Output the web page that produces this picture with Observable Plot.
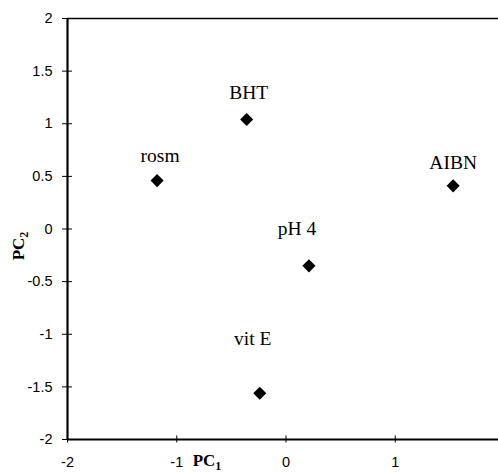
<!DOCTYPE html>
<html>
<head>
<meta charset="utf-8">
<script src="https://cdn.jsdelivr.net/npm/d3@7"></script>
<script src="https://cdn.jsdelivr.net/npm/@observablehq/plot@0.6"></script>
<style>
  html, body { margin: 0; padding: 0; background: #fff; overflow: hidden; }
  svg { max-width: none !important; }
</style>
</head>
<body>
<div id="chart"></div>
<script>
const names = ["rosm", "BHT", "AIBN", "pH 4", "vit E"];
const pc1 = [-1.18, -0.36, 1.53, 0.21, -0.24];
const pc2 = [0.46, 1.04, 0.41, -0.35, -1.56];
const xTicks = [-2, -1, 0, 1, 2];
const yTicks = [-2, -1.5, -1, -0.5, 0, 0.5, 1, 1.5, 2];
const xTickLabels = ["-2", "-1", "0", "1", "2"];
const yTickLabels = ["-2", "-1.5", "-1", "-0.5", "0", "0.5", "1", "1.5", "2"];

const data = names.map((n, i) => ({name: n, x: pc1[i], y: pc2[i]}));

// label offsets (px) – styling, not data
const offs = {"rosm": [3, -19], "BHT": [2, -21], "AIBN": [0, -17], "pH 4": [-12, -31], "vit E": [-7, -48]};

const labelMarks = names.map(n => Plot.text(data, {
  filter: d => d.name === n, x: "x", y: "y", text: "name",
  dx: offs[n][0], dy: offs[n][1], lineAnchor: "bottom",
  fontSize: 19.5, fontFamily: "Liberation Serif, Times New Roman, serif", fill: "black"
}));

const plot = Plot.plot({
  width: 510,
  height: 473,
  marginLeft: 67,
  marginRight: 6,
  marginTop: 18,
  marginBottom: 34,
  style: {fontFamily: "Liberation Sans, Arial, sans-serif", fontSize: "14px", color: "black", background: "white"},
  x: {domain: [-2, 2]},
  y: {domain: [-2, 2]},
  marks: [
    Plot.axisY(yTicks, {tickSize: 10, dx: 5, text: null, strokeWidth: 1, label: null}),
    Plot.axisX(xTicks, {tickSize: 7, dy: -3.5, text: null, strokeWidth: 1, label: null}),
    Plot.axisY(yTicks, {tickSize: 0, tickPadding: 15, tickFormat: (d, i) => yTickLabels[i], fontSize: 14.5, label: null}),
    Plot.axisX(xTicks, {tickSize: 0, tickPadding: 17, tickFormat: (d, i) => xTickLabels[i], fontSize: 14.5, label: null}),
    Plot.ruleX([-2], {strokeWidth: 2.2}),
    Plot.ruleY([-2], {strokeWidth: 2.2}),
    Plot.ruleY([2], {strokeWidth: 1.6}),
    Plot.ruleX([2], {strokeWidth: 1.6}),
    Plot.dot(data, {x: "x", y: "y", symbol: "diamond2", r: 5.9, fill: "black", stroke: "none"}),
    ...labelMarks
  ]
});
plot.style.maxWidth = "none";

const svg = d3.select(plot);
const serif = "Liberation Serif, Times New Roman, serif";
const t1 = svg.append("text")
  .attr("x", 207).attr("y", 466)
  .attr("font-family", serif).attr("font-weight", "bold").attr("font-size", 17).attr("fill", "black");
t1.append("tspan").text("PC");
t1.append("tspan").attr("font-size", 12).attr("dy", 4).text("1");

const t2 = svg.append("text")
  .attr("transform", "translate(24,246) rotate(-90)")
  .attr("font-family", serif).attr("font-weight", "bold").attr("font-size", 17).attr("fill", "black");
t2.append("tspan").text("PC");
t2.append("tspan").attr("font-size", 12).attr("dy", 4).text("2");

document.getElementById("chart").appendChild(plot);
</script>
</body>
</html>
